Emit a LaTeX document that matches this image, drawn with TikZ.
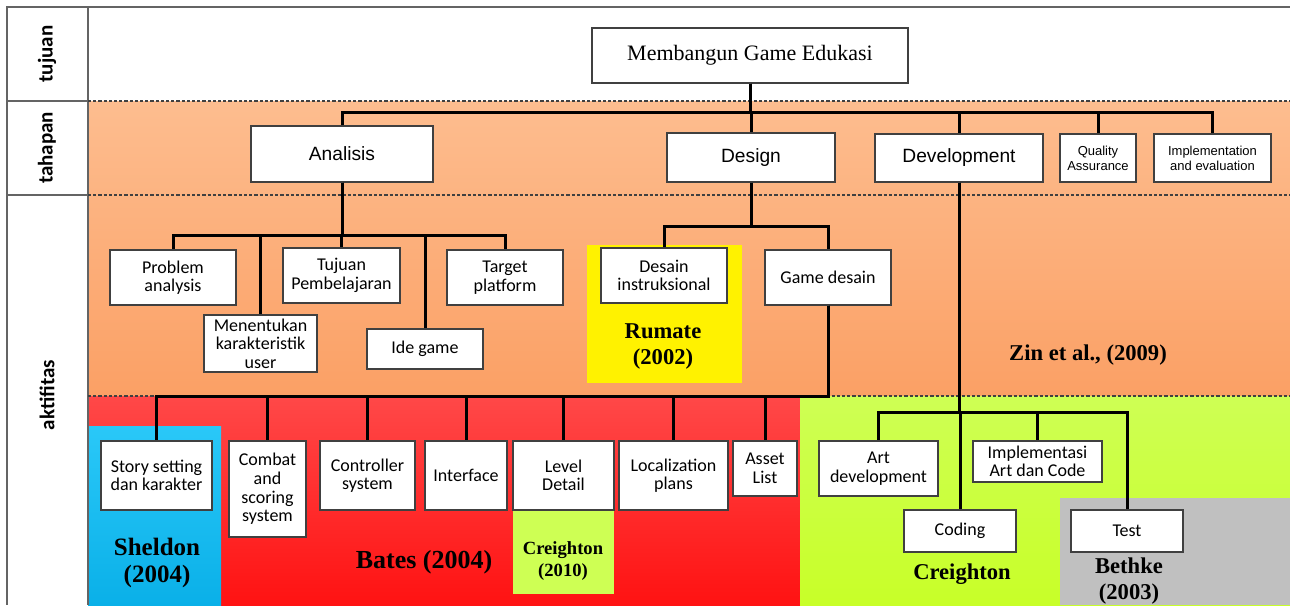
\documentclass[tikz,border=0pt]{standalone}
\usepackage{fontspec}
\setmainfont{Liberation Serif}
\newfontfamily\calfont{Carlito}
\newfontfamily\arifont{Liberation Sans}

\definecolor{orangetop}{RGB}{253,189,143}
\definecolor{orangebot}{RGB}{251,160,101}
\definecolor{redtop}{RGB}{255,72,72}
\definecolor{redbot}{RGB}{255,18,18}
\definecolor{greentop}{RGB}{206,255,84}
\definecolor{greenbot}{RGB}{200,255,40}
\definecolor{bluetop}{RGB}{42,200,248}
\definecolor{bluebot}{RGB}{10,176,232}
\definecolor{refgray}{RGB}{192,192,192}
\definecolor{boxgray}{RGB}{64,64,64}
\definecolor{framegray}{RGB}{100,100,100}

\begin{document}
\begin{tikzpicture}[x=0.5pt,y=-0.5pt,
    box/.style={draw=boxgray,fill=white,line width=0.7pt,inner sep=1pt,align=center,
      font=\calfont\fontsize{9}{9.3}\selectfont},
    stage/.style={box,font=\arifont\fontsize{9.6}{11}\selectfont},
    smallstage/.style={box,font=\arifont\fontsize{6.5}{7.6}\selectfont},
    wh/.style 2 args={minimum width=#1*0.5pt,minimum height=#2*0.5pt},
    ref/.style={align=center,font=\bfseries\fontsize{11.3}{13}\selectfont},
    conn/.style={line width=1.5pt},
    sep/.style={dash pattern=on 1.6pt off 1pt,draw=boxgray,line width=0.6pt},
    rowlabel/.style={rotate=90,font=\calfont\bfseries\fontsize{10.5}{12}\selectfont}]
  \useasboundingbox (0,0) rectangle (1290,605);

  % background areas
  \shade[top color=orangetop,bottom color=orangebot] (88,101) rectangle (1290,396);
  \shade[top color=redtop,bottom color=redbot] (88,396) rectangle (800,605);
  \shade[top color=greentop,bottom color=greenbot] (800,396) rectangle (1290,605);
  \shade[top color=bluetop,bottom color=bluebot] (88,426) rectangle (221,605);
  \fill[refgray] (1060,498) rectangle (1290,605);
  \fill[yellow] (587,245) rectangle (742,383);
  \fill[greentop] (513,510) rectangle (614,594);

  % frame and rows
  \draw[framegray,line width=0.8pt] (1290,7) -- (7,7) -- (7,605) (88,7) -- (88,605)
    (7,101) -- (88,101) (7,195) -- (88,195);
  \draw[sep] (88,101) -- (1290,101) (88,195) -- (1290,195) (88,396) -- (1290,396);

  \node[rowlabel] (ltujuan) at (47,54) {tujuan};
  \node[rowlabel] (ltahapan) at (47,148) {tahapan};
  \node[rowlabel] (laktifitas) at (47,395) {aktifitas};

  % tujuan
  \node[box,font=\fontsize{11}{13}\selectfont,wh={316}{55}] (goal) at (750,55.5) {Membangun Game Edukasi};

  % tahapan
  \node[stage,wh={182}{56}] (analisis) at (342,154) {Analisis};
  \node[stage,wh={168}{49}] (design) at (751,157.5) {Design};
  \node[stage,wh={168}{48}] (development) at (959,158) {Development};
  \node[smallstage,wh={76}{48}] (qa) at (1098,158) {Quality\\Assurance};
  \node[smallstage,wh={117}{48}] (impleval) at (1212.5,158) {Implementation\\and evaluation};

  % aktifitas
  \node[box,wh={126}{55}] (problem) at (173,277.5) {Problem\\analysis};
  \node[box,wh={113}{57}] (karakter) at (260.5,343.5) {Menentukan\\karakteristik\\user};
  \node[box,wh={117}{55}] (tujuanpb) at (341.5,275.5) {Tujuan\\Pembelajaran};
  \node[box,wh={116}{40}] (idegame) at (425,349) {Ide game};
  \node[box,wh={116}{55}] (target) at (505,277.5) {Target\\platform};
  \node[box,wh={126}{55}] (desainins) at (664,275.5) {Desain\\instruksional};
  \node[box,wh={126}{55}] (gamedesain) at (828,277.5) {Game desain};

  \node[box,wh={111}{69}] (story) at (156.5,475.5) {Story setting\\dan karakter};
  \node[box,wh={77}{96}] (combat) at (267.5,489) {Combat\\and\\scoring\\system};
  \node[box,wh={95}{69}] (controller) at (367.5,475.5) {Controller\\system};
  \node[box,wh={82}{69}] (interface) at (466,475.5) {Interface};
  \node[box,wh={101}{69}] (level) at (563.5,475.5) {Level\\Detail};
  \node[box,wh={109}{69}] (local) at (673.5,475.5) {Localization\\plans};
  \node[box,wh={64}{55}] (asset) at (765,468.5) {Asset\\List};

  \node[box,wh={119}{55}] (artdev) at (878.5,468.5) {Art\\development};
  \node[box,wh={129}{41}] (implac) at (1037.5,461.5) {Implementasi\\Art dan Code};
  \node[box,wh={112}{42}] (coding) at (960,531) {Coding};
  \node[box,wh={112}{42}] (test) at (1127,531) {Test};

  % sources
  \node[ref] (zin) at (1088,355) {Zin et al., (2009)};
  \node[ref] (rumate) at (663,347) {Rumate\\(2002)};
  \node[ref,font=\bfseries\fontsize{12.5}{13.5}\selectfont] (sheldon) at (157,563) {Sheldon\\(2004)};
  \node[ref,font=\bfseries\fontsize{13}{15}\selectfont] (bates) at (424,562) {Bates (2004)};
  \node[ref,font=\bfseries\fontsize{9.3}{11}\selectfont] (creightonA) at (563,561) {Creighton\\(2010)};
  \node[ref] (creightonB) at (962,574) {Creighton};
  \node[ref] (bethke) at (1129,581) {Bethke\\(2003)};

  % connectors
  \coordinate (busgoal) at (0,112);
  \coordinate (busana) at (0,235);
  \coordinate (busdes) at (0,226);
  \coordinate (busgame) at (0,396);
  \coordinate (busdev) at (0,412);
  \foreach \c in {analisis,design,development,qa,impleval}
    \draw[conn] (goal.south) -- (goal.south |- busgoal) -| (\c.north);
  \foreach \c in {problem,karakter,tujuanpb,idegame,target}
    \draw[conn] (analisis.south) -- (analisis.south |- busana) -| (\c.north);
  \foreach \c in {desainins,gamedesain}
    \draw[conn] (design.south) -- (design.south |- busdes) -| (\c.north);
  \foreach \c in {story,combat,controller,interface,level,local,asset}
    \draw[conn] (gamedesain.south) -- (gamedesain.south |- busgame) -| (\c.north);
  \foreach \c in {artdev,coding,implac,test}
    \draw[conn] (development.south) -- (development.south |- busdev) -| (\c.north);
\end{tikzpicture}
\end{document}
